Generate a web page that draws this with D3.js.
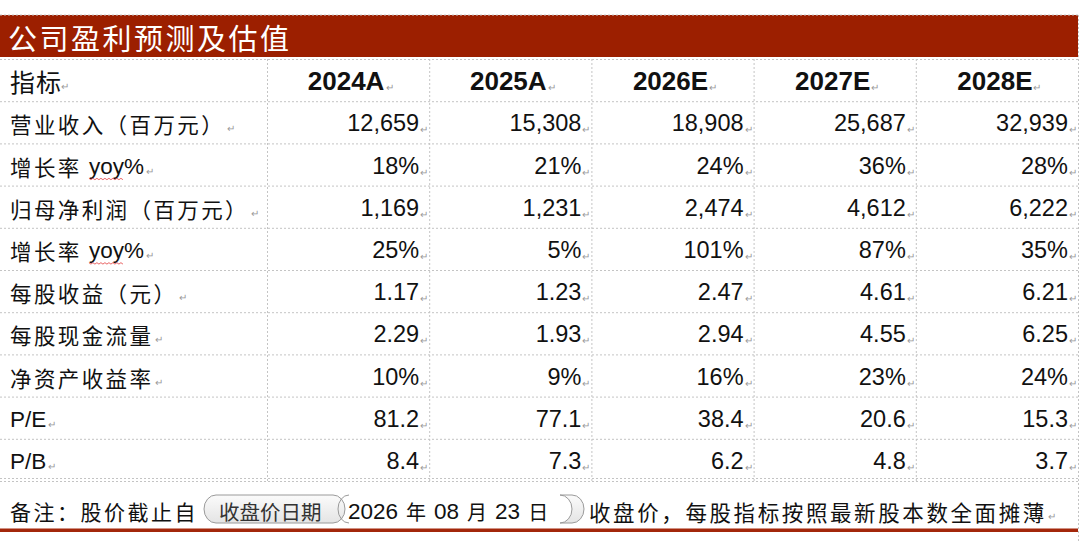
<!DOCTYPE html>
<html>
<head>
<meta charset="utf-8">
<script src="https://cdn.jsdelivr.net/npm/d3@7"></script>
<style>
  body { margin: 0; background: #fff; }
  svg { display: block; }
</style>
</head>
<body>
<div id="table"></div>
<script>
const title = "公司盈利预测及估值";
const headLabel = "指标";
const years = ["2024A", "2025A", "2026E", "2027E", "2028E"];
const metrics = ["营业收入（百万元）", "增长率 yoy%", "归母净利润（百万元）", "增长率 yoy%",
    "每股收益（元）", "每股现金流量", "净资产收益率", "P/E", "P/B"];

const revenue = [12659, 15308, 18908, 25687, 32939];
const revenueYoy = [18, 21, 24, 36, 28];
const netProfit = [1169, 1231, 2474, 4612, 6222];
const profitYoy = [25, 5, 101, 87, 35];
const eps = [1.17, 1.23, 2.47, 4.61, 6.21];
const cfps = [2.29, 1.93, 2.94, 4.55, 6.25];
const roe = [10, 9, 16, 23, 24];
const pe = [81.2, 77.1, 38.4, 20.6, 15.3];
const pb = [8.4, 7.3, 6.2, 4.8, 3.7];

const noteStart = "备注：股价截止自";
const noteBox = "收盘价日期";
const noteDate = "2026 年 08 月 23 日";
const noteEnd = "收盘价，每股指标按照最新股本数全面摊薄";

const fmtInt = d3.format(",");
const fmtPct = d => d + "%";
const fmt2 = d3.format(".2f");
const fmt1 = d3.format(".1f");

const rows = [
    { values: revenue, fmt: fmtInt },
    { values: revenueYoy, fmt: fmtPct },
    { values: netProfit, fmt: fmtInt },
    { values: profitYoy, fmt: fmtPct },
    { values: eps, fmt: fmt2 },
    { values: cfps, fmt: fmt2 },
    { values: roe, fmt: fmtPct },
    { values: pe, fmt: fmt1 },
    { values: pb, fmt: fmt1 }
].map((r, i) => ({ label: metrics[i], ...r }));

const width = 1080, height = 541;
const tLeft = 267, tRight = 1078, tTop = 59, tBottom = 481;
const cjk = "'Noto Sans CJK SC', sans-serif";
const latin = "'Liberation Sans', Arial, sans-serif";
const red = "#9c1f00";
const grid = "#c4c4c4";

const svg = d3.select("#table")
    .append("svg")
    .attr("width", width)
    .attr("height", height);

const x = d3.scaleBand().domain(years).range([tLeft, tRight]);
const y = d3.scaleBand().domain(d3.range(metrics.length + 1)).range([tTop, tBottom]);

// title bar
svg.append("rect")
    .attr("x", 0).attr("y", 15)
    .attr("width", tRight).attr("height", tTop - 17)
    .attr("fill", red);
svg.append("line")
    .attr("x1", 0).attr("x2", tRight).attr("y1", 15).attr("y2", 15)
    .attr("stroke", grid).attr("stroke-dasharray", "2,2");

svg.append("text")
    .attr("x", 8).attr("y", 37)
    .attr("dominant-baseline", "central")
    .style("font-family", cjk)
    .style("font-size", "29px")
    .style("letter-spacing", "2.5px")
    .attr("fill", "#fff")
    .text(title);

// grid lines
const hLines = d3.range(metrics.length + 2).map(i => i < metrics.length + 1 ? y(i) : tBottom);
svg.selectAll(".hline")
    .data(hLines)
    .join("line")
    .attr("x1", 0).attr("x2", tRight)
    .attr("y1", d => d + 0.5).attr("y2", d => d + 0.5)
    .attr("stroke", grid)
    .attr("stroke-dasharray", "2,2");
svg.append("line")
    .attr("x1", 0).attr("x2", tRight)
    .attr("y1", tBottom - 2.5).attr("y2", tBottom - 2.5)
    .attr("stroke", grid).attr("stroke-dasharray", "2,2");

const vLines = [tLeft, ...years.slice(1).map(d => x(d))];
svg.selectAll(".vline")
    .data(vLines)
    .join("line")
    .attr("x1", d => d + 0.5).attr("x2", d => d + 0.5)
    .attr("y1", tTop).attr("y2", tBottom)
    .attr("stroke", grid)
    .attr("stroke-dasharray", "2,2");
svg.append("line")
    .attr("x1", tRight + 0.5).attr("x2", tRight + 0.5)
    .attr("y1", 15).attr("y2", height)
    .attr("stroke", grid).attr("stroke-dasharray", "2,2");

// paragraph mark helper
function mark(sel, xPos, yPos) {
    sel.append("text")
        .attr("x", xPos).attr("y", yPos)
        .style("font-family", latin)
        .style("font-size", "10px")
        .attr("fill", "#9a9a9a")
        .text("↵");
}

const rowMid = i => y(i) + y.bandwidth() / 2 + 1;

// header row
const head = svg.append("g");
head.append("text")
    .attr("x", 10).attr("y", rowMid(0))
    .attr("dominant-baseline", "central")
    .style("font-family", cjk)
    .style("font-size", "25px")
    .style("letter-spacing", "1px")
    .attr("fill", "#111")
    .text(headLabel);
mark(head, 61, rowMid(0) + 9);

years.forEach(yr => {
    const t = head.append("text")
        .attr("x", x(yr) + x.bandwidth() / 2 - 2)
        .attr("y", rowMid(0))
        .attr("dominant-baseline", "central")
        .attr("text-anchor", "middle")
        .style("font-family", latin)
        .style("font-weight", "bold")
        .style("font-size", "26px")
        .attr("fill", "#111")
        .text(yr);
    const bb = t.node().getBBox();
    mark(head, bb.x + bb.width + 1, rowMid(0) + 10);
});

// body rows
rows.forEach((r, i) => {
    const g = svg.append("g");
    const cy = rowMid(i + 1);
    const lab = g.append("text")
        .attr("x", 10).attr("y", cy)
        .attr("dominant-baseline", "central")
        .attr("fill", "#111");
    const m = r.label.match(/^([^A-Za-z]*)(.*)$/);
    lab.append("tspan")
        .style("font-family", cjk)
        .style("font-size", "21.5px")
        .style("letter-spacing", "2.4px")
        .text(m[1]);
    if (m[2]) {
        lab.append("tspan")
            .style("font-family", latin)
            .style("font-size", "22.5px")
            .text(m[2]);
    }
    const lb = lab.node().getBBox();
    mark(g, lb.x + lb.width + 2, cy + 9);

    if (m[2].startsWith("yoy")) {
        // spell-check squiggle under "yoy"
        const ts = lab.node().lastChild;
        const sx = ts.getStartPositionOfChar(0).x;
        const ex = ts.getEndPositionOfChar(2).x;
        const pts = d3.range(sx, ex, 2).map((px, k) => [px, cy + 13 + (k % 2 ? 1.2 : -0.2)]);
        g.append("path")
            .attr("d", d3.line()(pts))
            .attr("fill", "none")
            .attr("stroke", "#e23c3c")
            .attr("stroke-width", 0.8);
    }

    g.selectAll(".val")
        .data(r.values)
        .join("text")
        .attr("x", (d, j) => x(years[j]) + x.bandwidth() - 10)
        .attr("y", cy)
        .attr("dominant-baseline", "central")
        .attr("text-anchor", "end")
        .style("font-family", latin)
        .style("font-size", "23.5px")
        .attr("fill", "#111")
        .text(d => r.fmt(d));
    years.forEach(yr => mark(g, x(yr) + x.bandwidth() - 9, cy + 10));
});

// footnote
const note = svg.append("g");
const noteY = 511;

const grad = svg.append("defs").append("linearGradient")
    .attr("id", "btn").attr("x1", 0).attr("x2", 0).attr("y1", 0).attr("y2", 1);
grad.append("stop").attr("offset", "0%").attr("stop-color", "#fbfbfb");
grad.append("stop").attr("offset", "100%").attr("stop-color", "#e4e4e4");

note.append("text")
    .attr("x", 10).attr("y", noteY)
    .attr("dominant-baseline", "central")
    .style("font-family", cjk)
    .style("font-size", "21px")
    .style("letter-spacing", "2.5px")
    .attr("fill", "#111")
    .text(noteStart);

note.append("rect")
    .attr("x", 204).attr("y", 495)
    .attr("width", 141).attr("height", 28)
    .attr("rx", 12).attr("ry", 14)
    .attr("fill", "url(#btn)")
    .attr("stroke", "#9a9a9a");
note.append("text")
    .attr("x", 219).attr("y", noteY)
    .attr("dominant-baseline", "central")
    .style("font-family", cjk)
    .style("font-size", "20.5px")
    .attr("fill", "#333")
    .text(noteBox);

// second field: only its rounded ends show
note.append("path")
    .attr("d", "M349,495 A11,14 0 0 0 349,523")
    .attr("fill", "none")
    .attr("stroke", "#9a9a9a");
note.append("path")
    .attr("d", "M560,495 L572,495 A12,14 0 0 1 572,523 L560,523 A12,14 0 0 0 560,495 Z")
    .attr("fill", "url(#btn)")
    .attr("stroke", "#9a9a9a");

const dateText = note.append("text")
    .attr("x", 348).attr("y", noteY)
    .attr("dominant-baseline", "central")
    .attr("fill", "#111");
noteDate.split(" ").forEach((part, k) => {
    const cjkPart = /[年月日]/.test(part);
    dateText.append("tspan")
        .style("font-family", cjkPart ? cjk : latin)
        .style("font-size", cjkPart ? "20px" : "22.5px")
        .attr("dx", k ? 8 : 0)
        .text(part);
});

note.append("text")
    .attr("x", 589).attr("y", noteY)
    .attr("dominant-baseline", "central")
    .style("font-family", cjk)
    .style("font-size", "21.5px")
    .style("letter-spacing", "2.6px")
    .attr("fill", "#111")
    .text(noteEnd);
mark(note, 1048, noteY + 9);

svg.append("rect")
    .attr("x", 0).attr("y", 528.5)
    .attr("width", tRight).attr("height", 3.5)
    .attr("fill", "#a3270b");
</script>
</body>
</html>
